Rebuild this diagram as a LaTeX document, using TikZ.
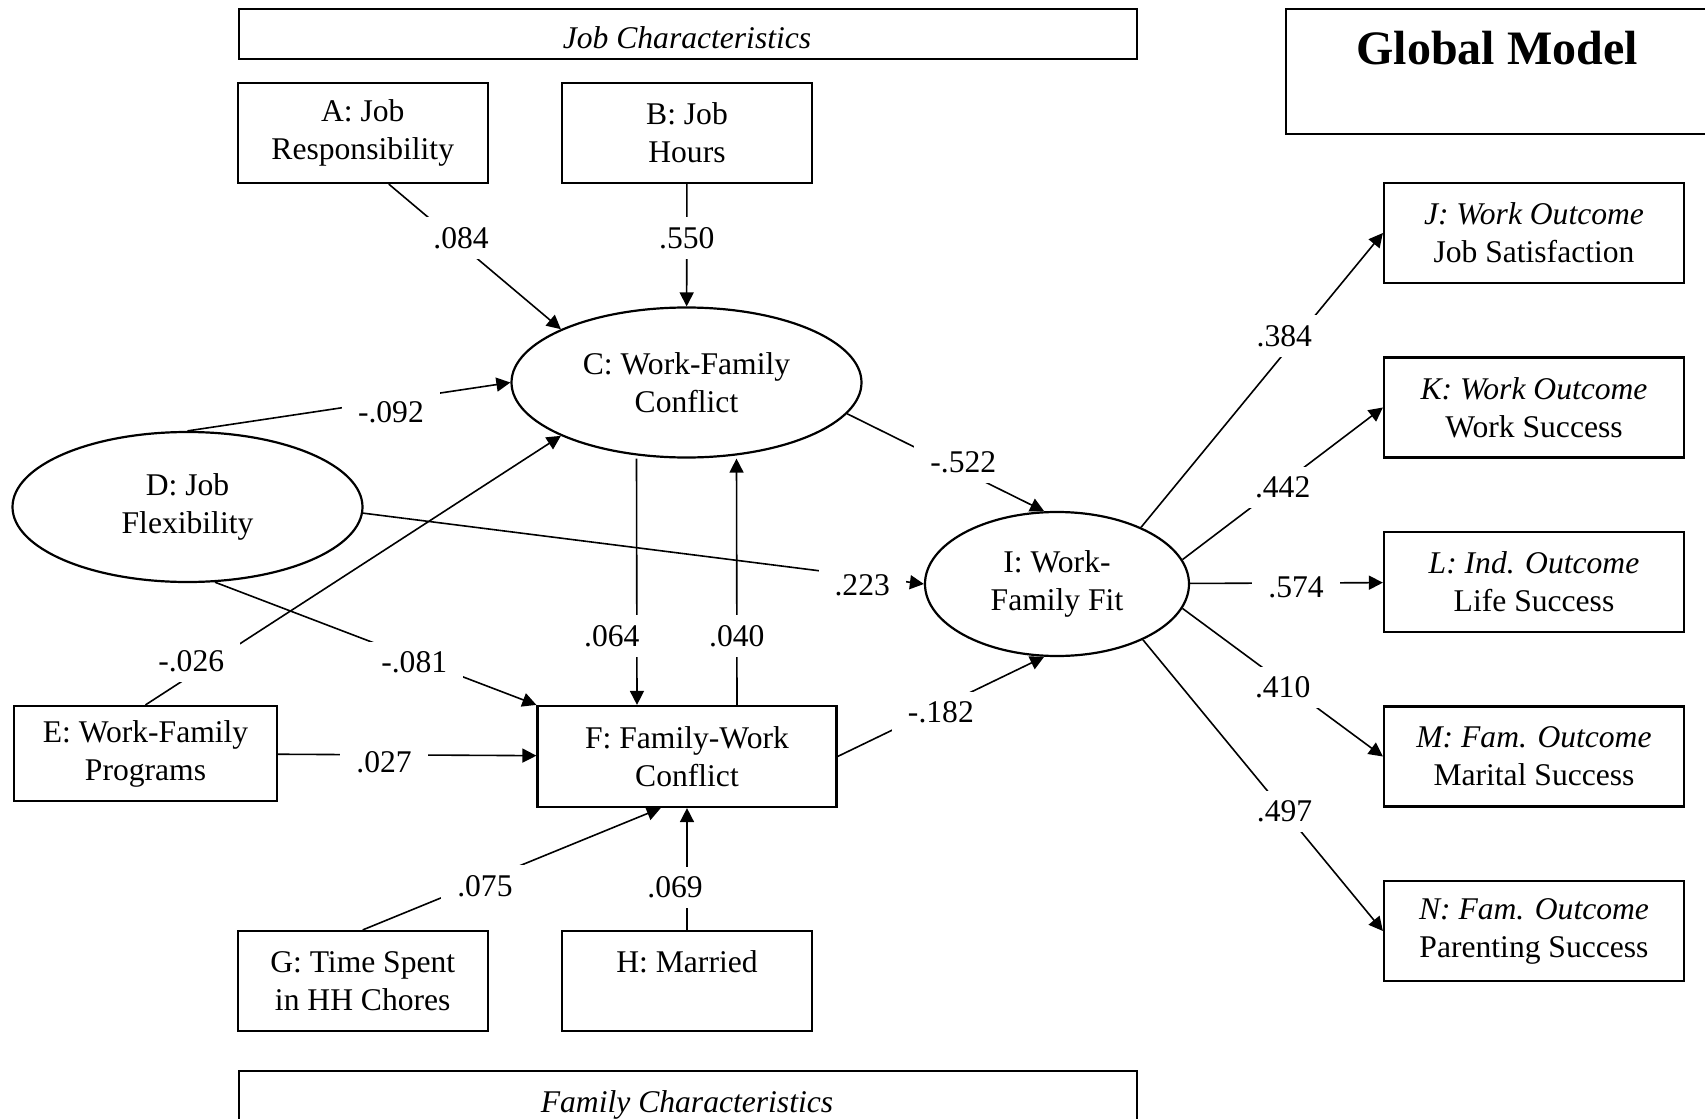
\documentclass[tikz,border=0pt]{standalone}
\usepackage{fontspec}
\setmainfont{Liberation Serif}
\usetikzlibrary{arrows.meta,shapes.geometric}

\begin{document}
\begin{tikzpicture}[>={Triangle[length=7pt,width=7pt]},x=0.5pt,y=-0.5pt,
  font=\fontsize{15.8}{19}\selectfont,
  box/.style={draw,line width=1.1pt,align=center,inner sep=0pt,minimum width=125pt,minimum height=50pt},
  outbox/.style={box,minimum width=150pt},
  oval/.style={draw,ellipse,line width=1.1pt,align=center,inner sep=1pt,minimum width=175pt,minimum height=75pt},
  bar/.style={draw,line width=1.1pt,anchor=north west,minimum width=449.25pt},
  link/.style={->,line width=0.8pt},
  coef/.style={fill=white,inner xsep=8pt,inner ysep=5pt}]
  \useasboundingbox (0,0) rectangle (1705,1119);
  \clip (0,0) rectangle (1705,1119);
  % banners
  \node[bar,minimum height=25pt] (jobbar) at (237.5,8) {};
  \node[anchor=base,font=\fontsize{15.8}{19}\selectfont\itshape] (jobtitle) at (687,48) {Job Characteristics};
  \node[bar,minimum height=40pt] (fambar) at (237.5,1070) {};
  \node[anchor=base,font=\fontsize{15.8}{19}\selectfont\itshape] (famtitle) at (687,1112) {Family Characteristics};
  \node[draw,line width=1.1pt,anchor=north west,minimum width=213.5pt,minimum height=62.5pt] (globbox) at (1285,8) {};
  \node[font=\fontsize{24}{29}\selectfont\bfseries] (globtitle) at (1497,48) {Global Model};
  % antecedents
  \node[box] (A) at (362.75,133) {A: Job\\Responsibility};
  \node[box] (B) at (687,133) {B: Job\\Hours};
  \node[oval] (C) at (686.5,382.5) {C: Work-Family\\Conflict};
  \node[oval] (D) at (187.5,507) {D: Job\\Flexibility};
  \node[box,minimum width=131.5pt,minimum height=47.5pt] (E) at (145.5,753.5) {E: Work-Family\\Programs};
  \node[box,minimum width=149.5pt,minimum height=50.5pt] (F) at (687,756.5) {F: Family-Work\\Conflict};
  \node[box] (G) at (362.75,981) {G: Time Spent\\in HH Chores};
  \node[box] (H) at (687,981) {H: Married\\\mbox{}};
  % fit and outcomes
  \node[oval,minimum width=132pt,minimum height=72pt] (I) at (1057,584) {I: Work-\\Family Fit};
  \node[outbox] (J) at (1534,233) {\textit{J: Work Outcome}\\Job Satisfaction};
  \node[outbox] (K) at (1534,407.5) {\textit{K: Work Outcome}\\Work Success};
  \node[outbox] (L) at (1534,582) {\textit{L: Ind. Outcome}\\Life Success};
  \node[outbox] (M) at (1534,756.5) {\textit{M: Fam. Outcome}\\Marital Success};
  \node[outbox] (N) at (1534,931) {\textit{N: Fam. Outcome}\\Parenting Success};
  % paths into the conflict nodes
  \draw[link] (A.-63) -- node[coef,pos=.42,yshift=3.5pt] {.084} (C.157.5);
  \draw[link] (B) -- node[coef,pos=.44] {.550} (C);
  \draw[link] (D.north) -- node[coef,pos=.63,yshift=-6pt] {-.092} (C.west);
  \draw[link] (E.north) -- node[coef,pos=.11,yshift=7pt] {-.026} (C.203);
  \draw[link] (D.-70.5) -- node[coef,pos=.62,yshift=-2pt] {-.081} (F.north west);
  \draw[link] (E) -- node[coef,pos=.41,yshift=-3.5pt] {.027} (F);
  \draw[link] (G.north) -- node[coef,pos=.41,yshift=-3pt] {.075} (F.243);
  \draw[link] (H) -- node[coef,pos=.35,xshift=-6pt] {.069} (F);
  \draw[link] ([xshift=-25pt]C.south) -- node[coef,pos=.72,xshift=-12.5pt] {.064} ([xshift=-25pt]F.north);
  \draw[link] ([xshift=25pt]F.north) -- node[coef,pos=.28] {.040} ([xshift=25pt]C.south);
  % paths into fit
  \draw[link] (D.-2) -- node[coef,pos=.89,yshift=-4.5pt] {.223} (I.west);
  \draw[link] (C.-11) -- node[coef,pos=.59,yshift=4.5pt] {-.522} (I.100);
  \draw[link] (F.east) -- node[coef,pos=.5,yshift=-3pt] {-.182} (I.260);
  % paths out of fit
  \draw[link] (I.34) -- node[coef,pos=.65,xshift=-7pt] {.384} (J.west);
  \draw[link] (I.11) -- node[coef,pos=.5,yshift=-2pt] {.442} (K.west);
  \draw[link] (I) -- node[coef,pos=.55,yshift=-2pt] {.574} (L);
  \draw[link] (I.-11) -- node[coef,pos=.5,yshift=-2.5pt] {.410} (M.west);
  \draw[link] (I.-33) -- node[coef,pos=.59] {.497} (N.west);
\end{tikzpicture}
\end{document}
